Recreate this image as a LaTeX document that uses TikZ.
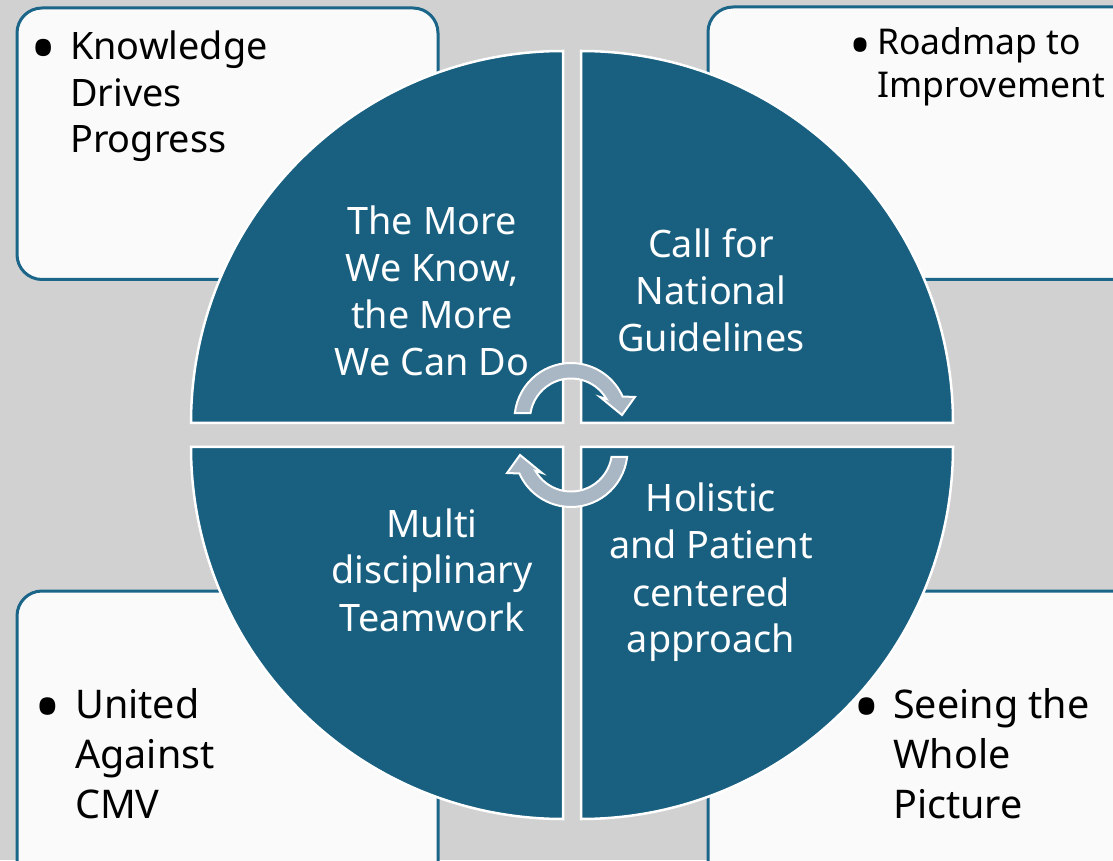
\documentclass[tikz,border=0pt]{standalone}
\usepackage{fontspec}
\setmainfont{Noto Sans}
\definecolor{bggray}{HTML}{D1D1D1}
\definecolor{boxfill}{HTML}{FAFAFA}
\definecolor{boxline}{HTML}{1B6589}
\definecolor{quadblue}{HTML}{185F80}
\definecolor{arrowfill}{HTML}{A9B6C4}
\tikzset{
  sidebox/.style={draw=boxline, line width=3pt, fill=boxfill, rounded corners=25pt, anchor=north west, inner sep=0pt},
  quad/.style={fill=quadblue, draw=white, line width=2.5pt},
  quadtext/.style={text=white, anchor=base, inner sep=0pt, font=\fontsize{37.8}{47}\selectfont},
  boxtext/.style={text=black, anchor=base west, inner sep=0pt},
  cyclearrow/.style={fill=arrowfill, draw=white, line width=2pt, line join=miter}
}
% #1 column width (bullet centre to text), #2 scale, #3 raise, #4 lines
\newcommand{\bulletlines}[4]{\begin{tabular}[t]{@{}p{#1}@{}l@{}}\makebox[0pt][c]{\raisebox{#3}{\scalebox{#2}{•}}} & #4\end{tabular}}
\begin{document}
\begin{tikzpicture}[x=1pt,y=1pt]
\useasboundingbox (0,0) rectangle (1113,860);
\begin{scope}
\clip (0,0) rectangle (1113,860);
\fill[bggray] (0,0) rectangle (1113,860);
% side boxes
\node[sidebox, minimum width=421pt, minimum height=271.5pt] (tlbox) at (15.5,853.5) {};
\node[sidebox, minimum width=460pt, minimum height=272.5pt] (trbox) at (706.5,854.5) {};
\node[sidebox, minimum width=421pt, minimum height=330pt] (blbox) at (15.5,270.5) {};
\node[sidebox, minimum width=460pt, minimum height=330pt] (brbox) at (706.5,270.5) {};
% box texts
\node[boxtext, font=\fontsize{37.8}{46.5}\selectfont] (tltext) at (43,800)
  {\bulletlines{27pt}{1.85}{-13.5pt}{Knowledge\\ & Drives\\ & Progress}};
\node[boxtext, font=\fontsize{35.5}{43}\selectfont] (trtext) at (860,805)
  {\bulletlines{17pt}{1.65}{-11.5pt}{Roadmap to\\ & Improvement}};
\node[boxtext, font=\fontsize{39.5}{50}\selectfont] (bltext) at (48,142)
  {\bulletlines{27pt}{1.8}{-14.5pt}{United\\ & Against\\ & CMV}};
\node[boxtext, font=\fontsize{39.5}{50}\selectfont] (brtext) at (867,142)
  {\bulletlines{26pt}{1.8}{-14.5pt}{Seeing the\\ & Whole\\ & Picture}};
% quadrants
\path[quad] (563,437) coordinate (tlc) -- ++(-372,0) arc[start angle=180, end angle=90, radius=372pt] -- cycle;
\path[quad] (581,437) coordinate (trc) -- ++(0,372) arc[start angle=90, end angle=0, radius=372pt] -- cycle;
\path[quad] (563,413) coordinate (blc) -- ++(0,-372) arc[start angle=270, end angle=180, radius=372pt] -- cycle;
\path[quad] (581,413) coordinate (brc) -- ++(372,0) arc[start angle=0, end angle=-90, radius=372pt] -- cycle;
% quadrant texts
\node[quadtext] (tlq) at (432,625) {\begin{tabular}[t]{@{}c@{}}The More\\ We Know,\\ the More\\ We Can Do\end{tabular}};
\node[quadtext] (trq) at (711,602) {\begin{tabular}[t]{@{}c@{}}Call for\\ National\\ Guidelines\end{tabular}};
\node[quadtext] (blq) at (432,323) {\begin{tabular}[t]{@{}c@{}}Multi\\ disciplinary\\ Teamwork\end{tabular}};
\node[quadtext] (brq) at (711,348) {\begin{tabular}[t]{@{}c@{}}Holistic\\ and Patient\\ centered\\ approach\end{tabular}};
% cycle arrows
\coordinate (c1) at (571,440.5);
\coordinate (c2) at (571,409.5);
\path[cyclearrow] ([shift={(c1)}]171:41pt) -- ([shift={(c1)}]173.4:56.5pt)
  arc[start angle=173.4, end angle=24, radius=56.5pt]
  -- ([shift={(c1)}]19.4:67.8pt) -- ([shift={(c1)}]5:51.2pt) -- ([shift={(c1)}]37.8:36.7pt)
  -- ([shift={(c1)}]30:41pt) arc[start angle=30, end angle=171, radius=41pt] -- cycle;
\path[cyclearrow] ([shift={(c2)}]-9:41pt) -- ([shift={(c2)}]-6.6:56.5pt)
  arc[start angle=-6.6, end angle=-156, radius=56.5pt]
  -- ([shift={(c2)}]199.4:67.8pt) -- ([shift={(c2)}]185:51.2pt) -- ([shift={(c2)}]217.8:36.7pt)
  -- ([shift={(c2)}]210:41pt) arc[start angle=210, end angle=351, radius=41pt] -- cycle;
\end{scope}
\end{tikzpicture}
\end{document}
